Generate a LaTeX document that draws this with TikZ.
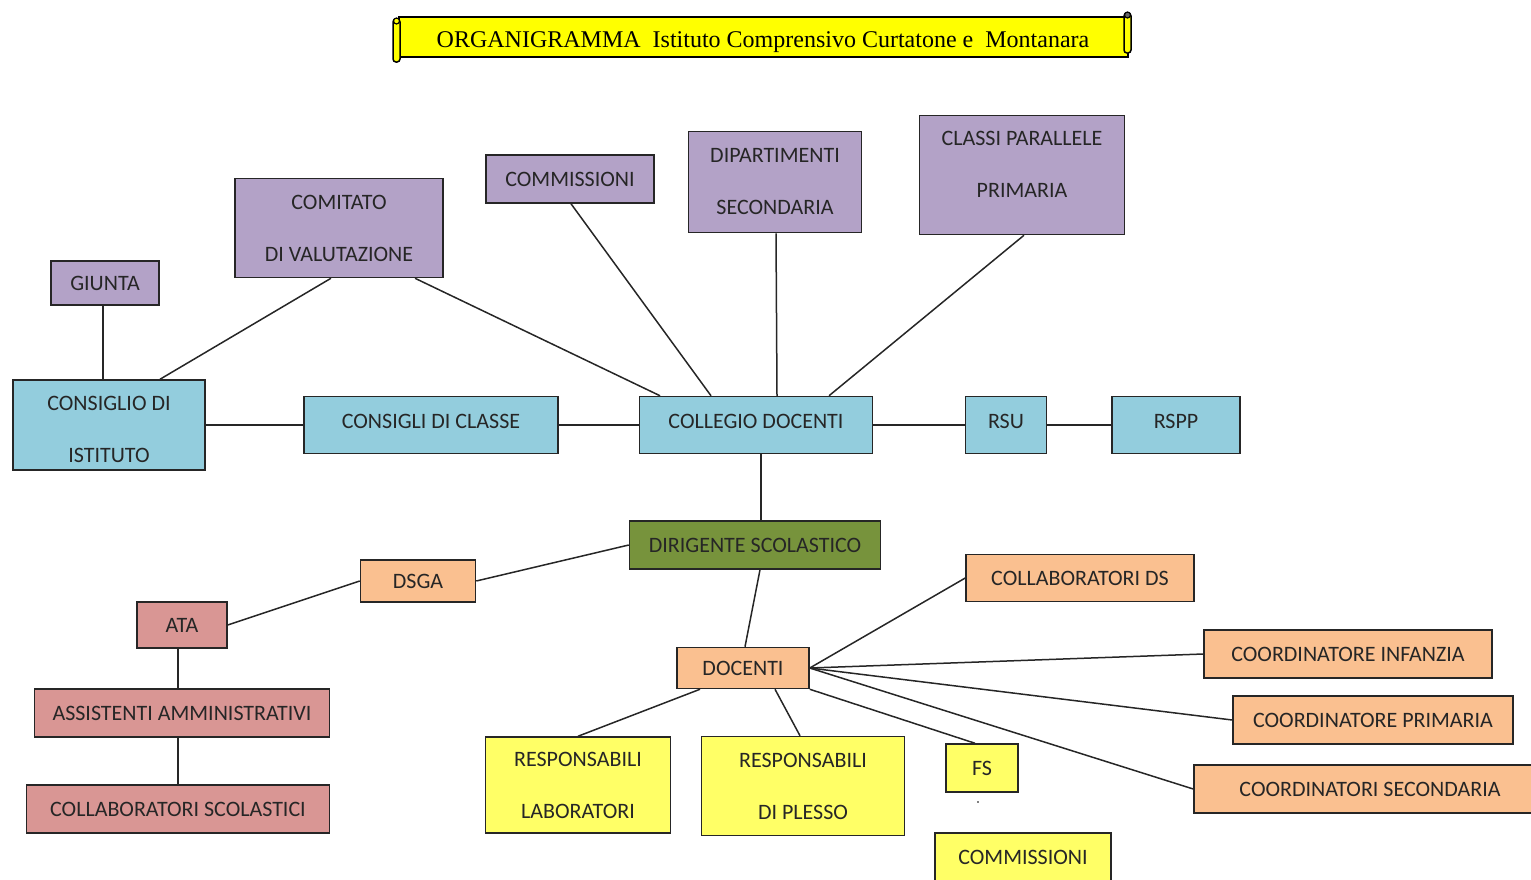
\documentclass[tikz,border=0pt]{standalone}
\usepackage{fontspec}
\setmainfont{Carlito}
\newfontfamily\titlefont{Liberation Serif}
\usetikzlibrary{calc}

\definecolor{lilla}{HTML}{B3A2C7}
\definecolor{azzurro}{HTML}{93CDDD}
\definecolor{verde}{HTML}{77933C}
\definecolor{arancio}{HTML}{FAC090}
\definecolor{rosa}{HTML}{D99694}
\definecolor{giallo}{HTML}{FFFF66}
\definecolor{gialloTitolo}{HTML}{FFFF00}

\tikzset{
	box/.style={draw=black!85, line width=1.5pt, inner sep=0pt, align=center, text=black!85, font=\fontsize{22}{52}\selectfont},
	viola/.style={box, fill=lilla},
	blu/.style={box, fill=azzurro},
	verdebox/.style={box, fill=verde},
	arbox/.style={box, fill=arancio},
	rosabox/.style={box, fill=rosa},
	giallobox/.style={box, fill=giallo},
	conn/.style={line width=1.5pt, black!85}
}

\begin{document}
\begin{tikzpicture}[x=1pt,y=1pt,yscale=-1,xscale=1]
		\useasboundingbox (0,0) rectangle (1531,879);

		% Title scroll
		\draw[line width=1.5pt, fill=gialloTitolo] (399,17) rectangle (1128,57);
		\draw[line width=1.5pt, fill=gialloTitolo, rounded corners=3pt] (393,19) rectangle (400,62);
		\draw[line width=1.2pt, fill=gialloTitolo] (396.5,21) circle (3);
		\draw[line width=1.5pt, fill=gialloTitolo, rounded corners=3pt] (1124,13) rectangle (1131,53);
		\draw[line width=1.2pt, fill=black!60] (1127.5,15) circle (3);
		\node[font=\titlefont\fontsize{24}{28}\selectfont] (title) at (763,42) {ORGANIGRAMMA\ \ Istituto Comprensivo Curtatone e\ \ Montanara};

		% Purple boxes (top)
		\node[viola, minimum width=108, minimum height=44] (giunta) at (105,283) {GIUNTA};
		\node[viola, minimum width=208, minimum height=99] (comitato) at (339,228) {COMITATO\\DI VALUTAZIONE};
		\node[viola, minimum width=168, minimum height=48] (commissioni) at (570,179) {COMMISSIONI};
		\node[viola, minimum width=173, minimum height=101] (dipartimenti) at (775,182) {DIPARTIMENTI\\SECONDARIA};
		\node[viola, minimum width=205, minimum height=119] (classi) at (1022,175) {};
		\node[box, draw=none] (classi-txt) at (1022,164) {CLASSI PARALLELE\\PRIMARIA};

		% Blue boxes (middle row)
		\node[blu, minimum width=192, minimum height=90] (consiglio) at (109,425) {};
		\node[box, draw=none] (consiglio-txt) at (109,429) {CONSIGLIO DI\\ISTITUTO};
		\node[blu, minimum width=254, minimum height=57] (consigliclasse) at (431,425) {};
		\node[box, draw=none] (consigliclasse-txt) at (431,421) {CONSIGLI DI CLASSE};
		\node[blu, minimum width=233, minimum height=57] (collegio) at (756,425) {};
		\node[box, draw=none] (collegio-txt) at (756,421) {COLLEGIO DOCENTI};
		\node[blu, minimum width=81, minimum height=57] (rsu) at (1006,425) {};
		\node[box, draw=none] (rsu-txt) at (1006,421) {RSU};
		\node[blu, minimum width=128, minimum height=57] (rspp) at (1176,425) {};
		\node[box, draw=none] (rspp-txt) at (1176,421) {RSPP};

		% Dirigente
		\node[verdebox, minimum width=251, minimum height=48] (dirigente) at (755,545) {DIRIGENTE SCOLASTICO};

		% Orange boxes
		\node[arbox, minimum width=115, minimum height=42] (dsga) at (418,581) {DSGA};
		\node[arbox, minimum width=132, minimum height=41] (docenti) at (743,668) {DOCENTI};
		\node[arbox, minimum width=228, minimum height=47] (collabds) at (1080,578) {COLLABORATORI DS};
		\node[arbox, minimum width=288, minimum height=48] (coordinf) at (1348,654) {COORDINATORE INFANZIA};
		\node[arbox, minimum width=280, minimum height=48] (coordprim) at (1373,720) {COORDINATORE PRIMARIA};
		\node[arbox, minimum width=352, minimum height=48] (coordsec) at (1370,789) {COORDINATORI SECONDARIA};

		% Red boxes (ATA)
		\node[rosabox, minimum width=90, minimum height=46] (ata) at (182,625) {ATA};
		\node[rosabox, minimum width=295, minimum height=48] (assist) at (182,713) {ASSISTENTI AMMINISTRATIVI};
		\node[rosabox, minimum width=303, minimum height=48] (collabscol) at (178,809) {COLLABORATORI SCOLASTICI};

		% Yellow boxes
		\node[giallobox, minimum width=185, minimum height=96] (resplab) at (578,785) {RESPONSABILI\\LABORATORI};
		\node[giallobox, minimum width=203, minimum height=99] (respplesso) at (803,786) {RESPONSABILI\\DI PLESSO};
		\node[giallobox, minimum width=72, minimum height=48] (fs) at (982,768) {FS};
		\node[giallobox, minimum width=176, minimum height=48] (commissioni2) at (1023,857) {COMMISSIONI};
		\fill (978,802) circle (0.8);

		% Connectors top part
		\draw[conn] ($(giunta.south)+(-2,0)$) -- ($(consiglio.north)+(-6,0)$);
		\draw[conn] ($(comitato.south)+(-8,0)$) -- ($(consiglio.north)+(51,0)$);
		\draw[conn] ($(comitato.south)+(76,0)$) -- ($(collegio.north)+(-96,0)$);
		\draw[conn] ($(commissioni.south)+(1,0)$) -- ($(collegio.north)+(-45,0)$);
		\draw[conn] ($(dipartimenti.south)+(1,0)$) -- ($(collegio.north)+(21,0)$);
		\draw[conn] ($(classi.south)+(2,0)$) -- ($(collegio.north)+(73,0)$);

		% Connectors middle row
		\draw[conn] (consiglio.east) -- (consigliclasse.west);
		\draw[conn] (consigliclasse.east) -- (collegio.west);
		\draw[conn] (collegio.east) -- (rsu.west);
		\draw[conn] (rsu.east) -- (rspp.west);
		\draw[conn] ($(collegio.south)+(5,0)$) -- ($(dirigente.north)+(6,0)$);

		% Connectors ATA side
		\draw[conn] (dirigente.west) -- (dsga.east);
		\draw[conn] (dsga.west) -- (ata.east);
		\draw[conn] ($(ata.south)+(-4,0)$) -- ($(assist.north)+(-4,0)$);
		\draw[conn] ($(assist.south)+(-4,0)$) -- (collabscol.north);

		% Connectors docenti
		\draw[conn] ($(dirigente.south)+(5,0)$) -- ($(docenti.north)+(2,0)$);
		\draw[conn] (docenti.east) -- (collabds.west);
		\draw[conn] (docenti.east) -- (coordinf.west);
		\draw[conn] (docenti.east) -- (coordprim.west);
		\draw[conn] (docenti.east) -- (coordsec.west);
		\draw[conn] (docenti.south east) -- ($(fs.north)+(-7,0)$);
		\draw[conn] ($(docenti.south)+(32,0)$) -- ($(respplesso.north)+(-3,0)$);
		\draw[conn] ($(docenti.south)+(-43,0)$) -- (resplab.north);
	\end{tikzpicture}
\end{document}
